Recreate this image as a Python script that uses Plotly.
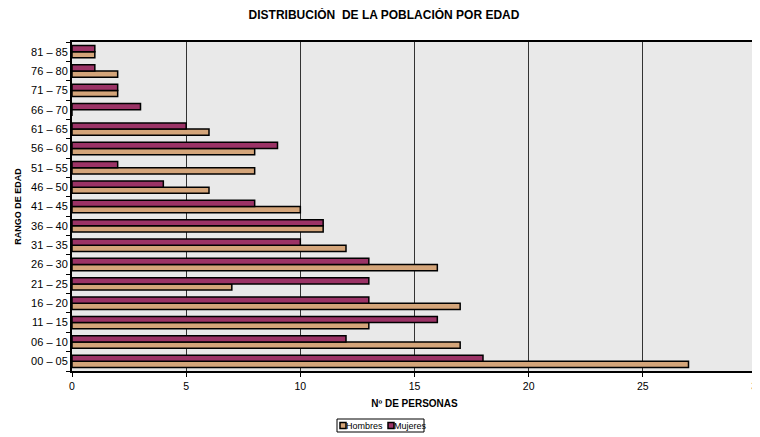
import plotly.graph_objects as go

categorias = ["00 – 05", "06 – 10", "11 – 15", "16 – 20", "21 – 25", "26 – 30", "31 – 35",
              "36 – 40", "41 – 45", "46 – 50", "51 – 55", "56 – 60", "61 – 65", "66 – 70",
              "71 – 75", "76 – 80", "81 – 85"]
hombres = [27, 17, 13, 17, 7, 16, 12, 11, 10, 6, 8, 8, 6, 0, 2, 2, 1]
mujeres = [18, 12, 16, 13, 13, 13, 10, 11, 8, 4, 2, 9, 5, 3, 2, 1, 1]
x_ticks = [0, 5, 10, 15, 20, 25, 30]
series = ["Hombres", "Mujeres"]
colores = ["#D4A57A", "#9B3366"]

FONT = "Liberation Sans, Arial, sans-serif"
OFF = 8  # page body margin in the browser
W, H = 760 - OFF, 437 - OFF
PL, PR, PT, PB = 72 - OFF, 757 - OFF, 42 - OFF, 371 - OFF  # plot area in figure pixels


def fx(p):
    return (p - OFF - PL) / (PR - PL)


def fy(p):
    return (PB - (p - OFF)) / (PB - PT)


fig = go.Figure()
fig.add_trace(go.Bar(y=categorias, x=hombres, orientation="h", name=series[0],
                     marker=dict(color=colores[0], line=dict(color="black", width=1.5))))
fig.add_trace(go.Bar(y=categorias, x=mujeres, orientation="h", name=series[1],
                     marker=dict(color=colores[1], line=dict(color="black", width=1.5))))

# compact legend drawn in reference pixel positions
shapes = [dict(type="rect", xref="paper", yref="paper", layer="above",
               x0=fx(337), x1=fx(424), y0=fy(432), y1=fy(419),
               line=dict(color="black", width=1), fillcolor="white")]
annotations = []
items = [(340, series[0], colores[0]), (388, series[1], colores[1])]
for xs, name, col in items:
    shapes.append(dict(type="rect", xref="paper", yref="paper", layer="above",
                       x0=fx(xs), x1=fx(xs + 6), y0=fy(428.5), y1=fy(422.5),
                       line=dict(color="black", width=1.5), fillcolor=col))
    annotations.append(dict(xref="paper", yref="paper", x=fx(xs + 7), y=fy(425.5),
                            xanchor="left", yanchor="middle", text=name, showarrow=False,
                            borderpad=0, xshift=-2,
                            font=dict(size=9, family=FONT)))

fig.update_layout(
    width=W, height=H,
    margin=dict(l=PL, r=W - PR, t=PT, b=H - PB, autoexpand=False),
    paper_bgcolor="white",
    plot_bgcolor="#E9E9E9",
    barmode="group",
    bargap=0.36,
    bargroupgap=0.0,
    font=dict(family=FONT, size=10, color="black"),
    title=dict(text="<b>DISTRIBUCIÓN  DE LA POBLACIÓN POR EDAD</b>", x=0.5, xanchor="center",
               yref="container", y=1 - (15 - OFF) / H, yanchor="middle",
               font=dict(size=12, family=FONT)),
    showlegend=False,
    shapes=shapes,
    annotations=annotations,
    xaxis=dict(range=[0, 30], tickvals=x_ticks, showgrid=True, gridcolor="#333333",
               gridwidth=1, zeroline=False, showline=True, linecolor="black", linewidth=2,
               mirror=True, ticks="outside", ticklen=4, tickcolor="black", automargin=False,
               ticklabeloverflow="allow",
               title=dict(text="<b>Nº DE PERSONAS</b>", font=dict(size=10), standoff=9),
               tickfont=dict(size=10.5)),
    yaxis=dict(categoryorder="array", categoryarray=categorias, showgrid=False,
               showline=True, linecolor="black", linewidth=2, mirror=True, automargin=False,
               ticks="outside", ticklen=4, tickcolor="black", tickson="boundaries",
               title=dict(text="<b>RANGO DE EDAD</b>", font=dict(size=9), standoff=8),
               tickfont=dict(size=11)),
)

fig.write_html("out.html")
